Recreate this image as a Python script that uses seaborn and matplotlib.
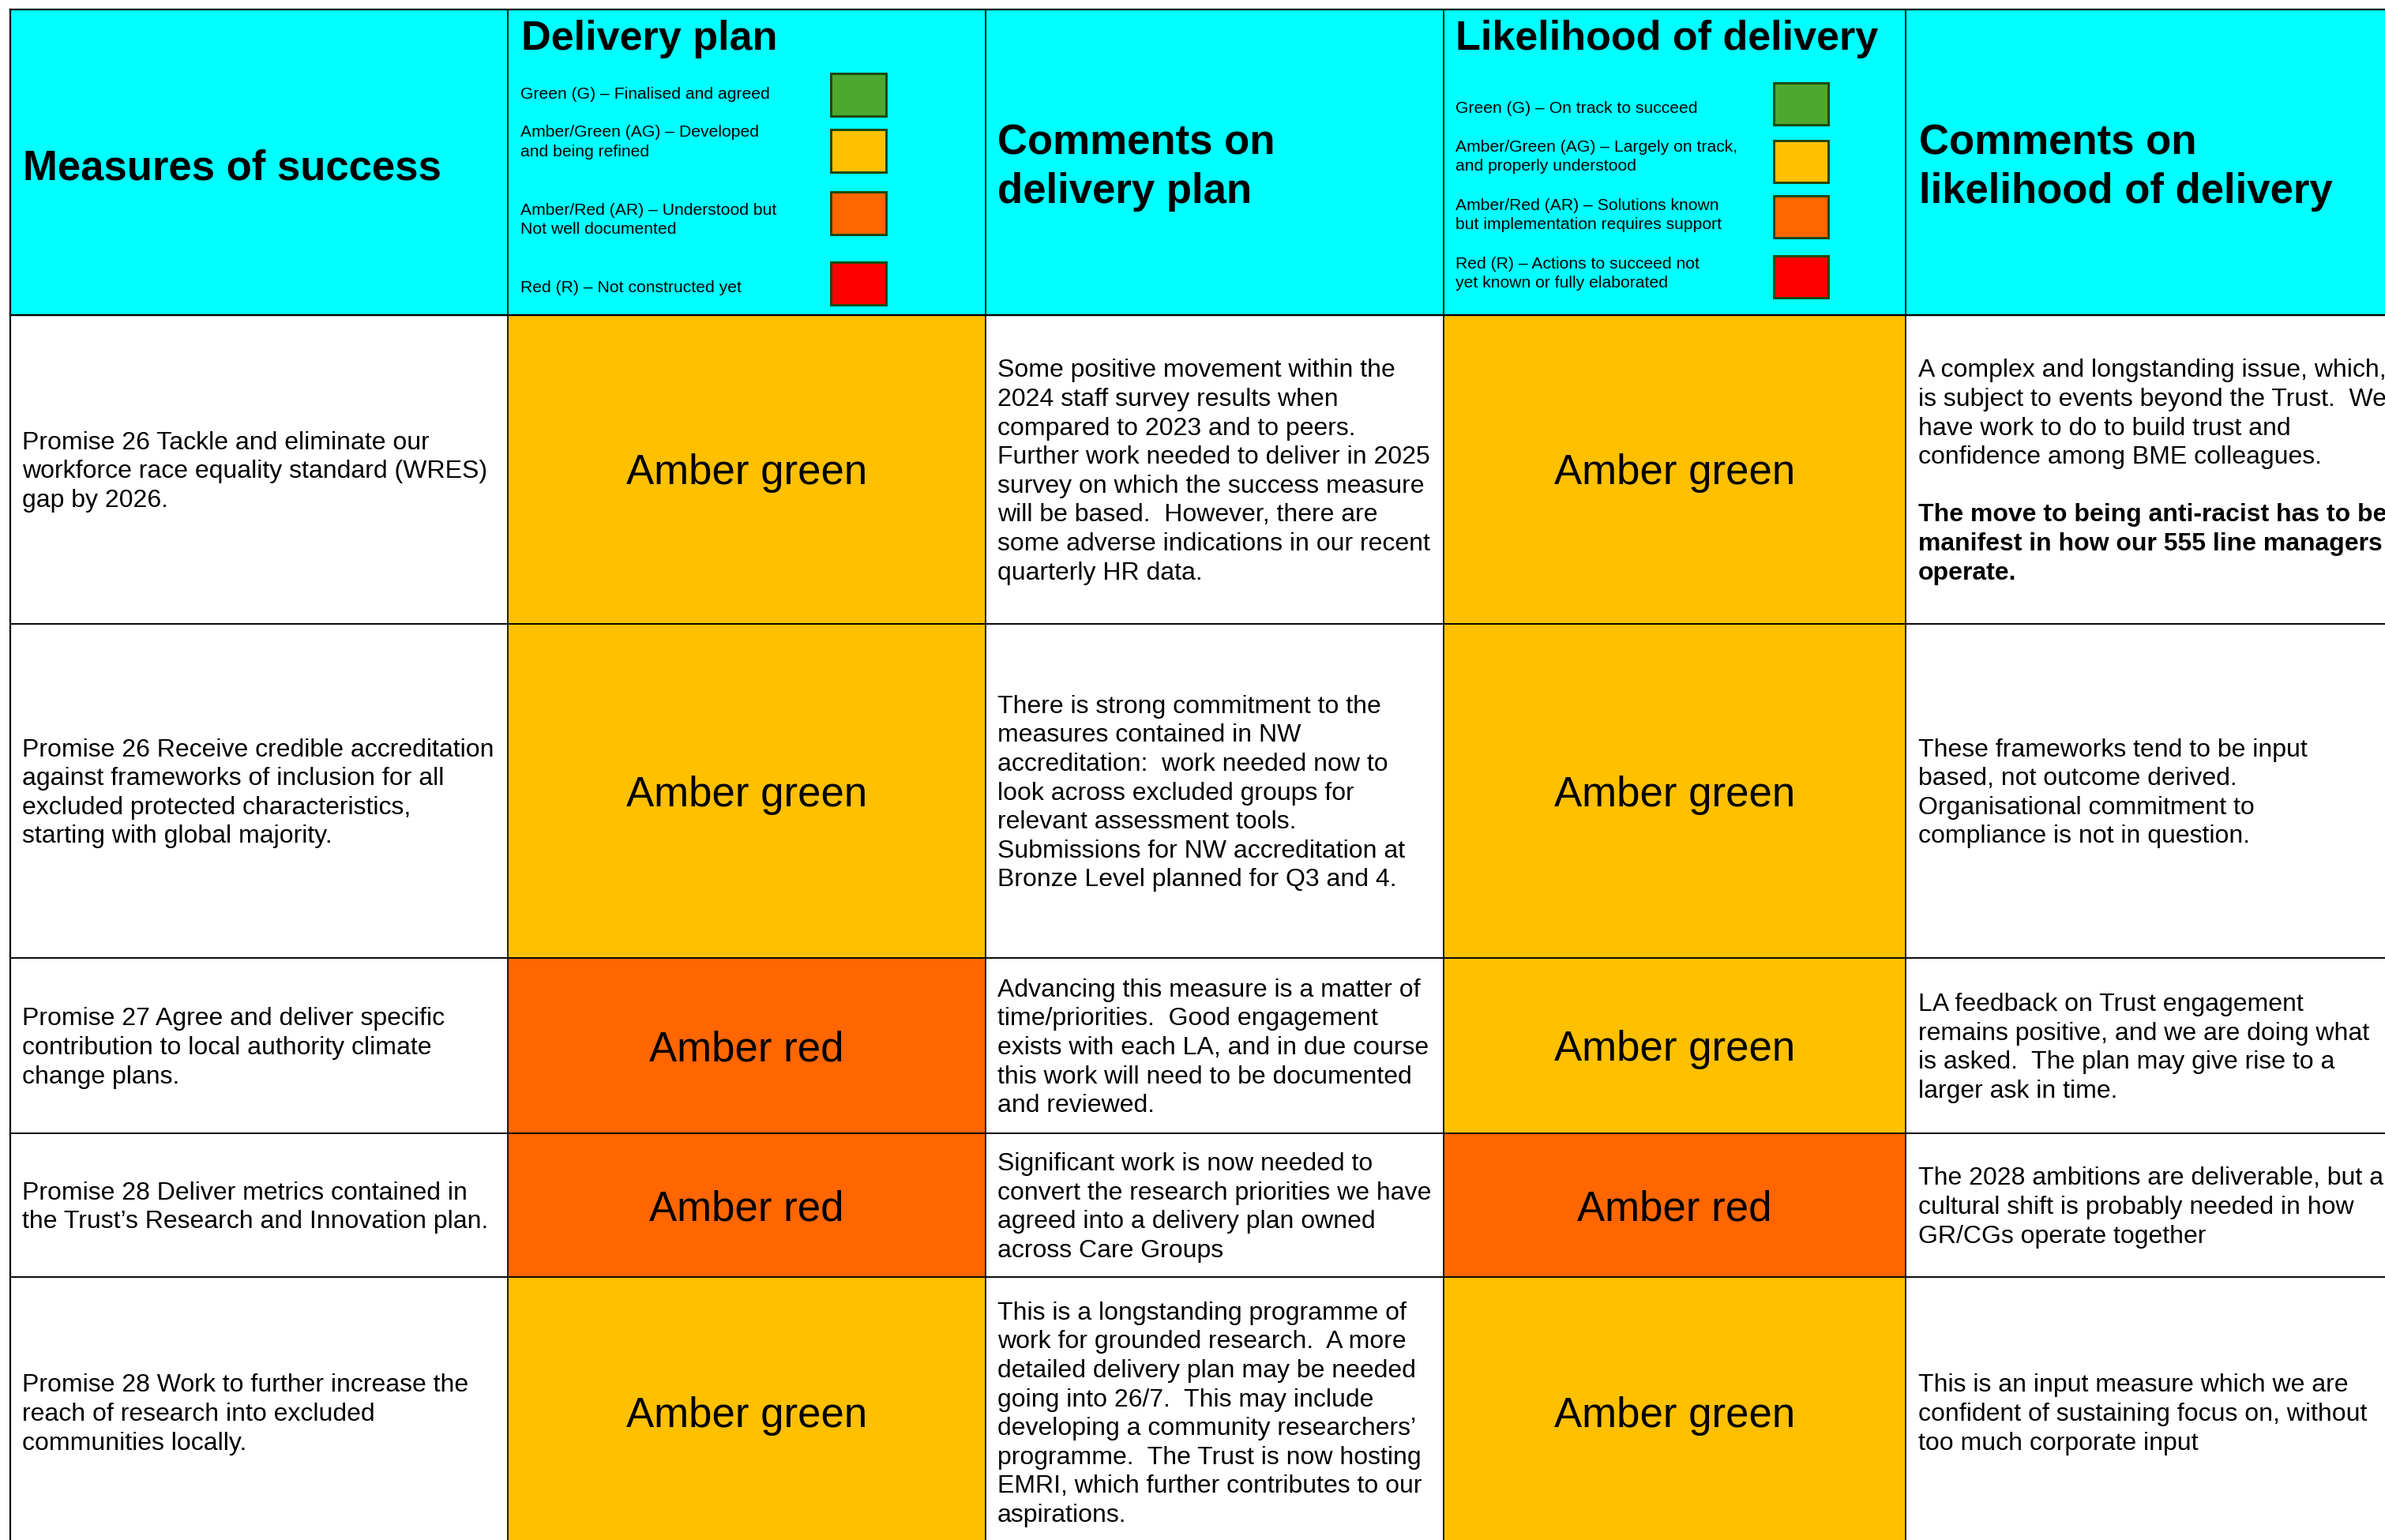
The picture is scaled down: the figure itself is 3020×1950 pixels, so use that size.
import matplotlib
matplotlib.use("Agg")
import numpy as np
import matplotlib.pyplot as plt
import seaborn as sns
from matplotlib.colors import ListedColormap
from matplotlib.patches import Rectangle

plt.rcParams["font.family"] = ["Liberation Sans", "DejaVu Sans"]

# ---------- table content ----------
headers = ["Measures of success", "Delivery plan", "Comments on\ndelivery plan",
           "Likelihood of delivery", "Comments on\nlikelihood of delivery"]

measures = [
    "Promise 26 Tackle and eliminate our\nworkforce race equality standard (WRES)\ngap by 2026.",
    "Promise 26 Receive credible accreditation\nagainst frameworks of inclusion for all\nexcluded protected characteristics,\nstarting with global majority.",
    "Promise 27 Agree and deliver specific\ncontribution to local authority climate\nchange plans.",
    "Promise 28 Deliver metrics contained in\nthe Trust\u2019s Research and Innovation plan.",
    "Promise 28 Work to further increase the\nreach of research into excluded\ncommunities locally.",
]

delivery_status = ["AG", "AG", "AR", "AR", "AG"]
likelihood_status = ["AG", "AG", "AG", "AR", "AG"]

delivery_comments = [
    "Some positive movement within the\n2024 staff survey results when\ncompared to 2023 and to peers.\n"
    "Further work needed to deliver in 2025\nsurvey on which the success measure\n"
    "will be based.  However, there are\nsome adverse indications in our recent\nquarterly HR data.",
    "There is strong commitment to the\nmeasures contained in NW\naccreditation:  work needed now to\n"
    "look across excluded groups for\nrelevant assessment tools.\nSubmissions for NW accreditation at\n"
    "Bronze Level planned for Q3 and 4.",
    "Advancing this measure is a matter of\ntime/priorities.  Good engagement\n"
    "exists with each LA, and in due course\nthis work will need to be documented\nand reviewed.",
    "Significant work is now needed to\nconvert the research priorities we have\n"
    "agreed into a delivery plan owned\nacross Care Groups",
    "This is a longstanding programme of\nwork for grounded research.  A more\n"
    "detailed delivery plan may be needed\ngoing into 26/7.  This may include\n"
    "developing a community researchers\u2019\nprogramme.  The Trust is now hosting\n"
    "EMRI, which further contributes to our\naspirations.",
]

likelihood_comments = [
    "A complex and longstanding issue, which,\nis subject to events beyond the Trust.  We\n"
    "have work to do to build trust and\nconfidence among BME colleagues.",
    "These frameworks tend to be input\nbased, not outcome derived.\n"
    "Organisational commitment to\ncompliance is not in question.",
    "LA feedback on Trust engagement\nremains positive, and we are doing what\n"
    "is asked.  The plan may give rise to a\nlarger ask in time.",
    "The 2028 ambitions are deliverable, but a\ncultural shift is probably needed in how\n"
    "GR/CGs operate together",
    "This is an input measure which we are\nconfident of sustaining focus on, without\n"
    "too much corporate input",
]
likelihood_emphasis = [
    "The move to being anti-racist has to be\nmanifest in how our 555 line managers\noperate.",
    None, None, None, None,
]

rag_labels = {"G": "Green", "AG": "Amber green", "AR": "Amber red", "R": "Red"}
rag_order = ["G", "AG", "AR", "R"]

delivery_key = [
    "Green (G) \u2013 Finalised and agreed",
    "Amber/Green (AG) \u2013 Developed\nand being refined",
    "Amber/Red (AR) \u2013 Understood but\nNot well documented",
    "Red (R) \u2013 Not constructed yet",
]
likelihood_key = [
    "Green (G) \u2013 On track to succeed",
    "Amber/Green (AG) \u2013 Largely on track,\nand properly understood",
    "Amber/Red (AR) \u2013 Solutions known\nbut implementation requires support",
    "Red (R) \u2013 Actions to succeed not\nyet known or fully elaborated",
]

fill_names = ["blank", "header", "G", "AG", "AR", "R"]
fill_colors = ["#FFFFFF", "#00FFFF", "#4EA72E", "#FFC000", "#FF6600", "#FF0000"]

# ---------- layout (pixels) ----------
W, H = 3020, 1950
col_edges = [13, 643, 1248, 1828, 2413, 3020]
row_edges = [12, 399, 790, 1213, 1435, 1617, 1959]
LS = 36.6          # body line spacing
BODY = 23
px2pt = 0.72

# colour code grid: header row + body rows
codes = [[1] * 5]
for d, l in zip(delivery_status, likelihood_status):
    codes.append([0, fill_names.index(d), 0, fill_names.index(l), 0])
codes = np.array(codes)

cmap = ListedColormap(fill_colors)
fig = plt.figure(figsize=(W / 100, H / 100), dpi=100)

for i in range(len(row_edges) - 1):
    y0, y1 = row_edges[i], min(row_edges[i + 1], H)
    for j in range(len(col_edges) - 1):
        x0, x1 = col_edges[j], col_edges[j + 1]
        cax = fig.add_axes([x0 / W, 1 - y1 / H, (x1 - x0) / W, (y1 - y0) / H])
        sns.heatmap(codes[i:i + 1, j:j + 1], cmap=cmap, vmin=-0.5, vmax=len(fill_colors) - 0.5,
                    cbar=False, xticklabels=False, yticklabels=False, ax=cax)
        cax.set_xlabel("")
        cax.set_ylabel("")

# overlay in pixel coordinates for text and rules
ax = fig.add_axes([0, 0, 1, 1])
ax.set_xlim(0, W)
ax.set_ylim(H, 0)
ax.axis("off")
ax.patch.set_alpha(0)

# grid lines
ax.plot([col_edges[0], W], [row_edges[0]] * 2, color="black", lw=2.2 * px2pt)
for k, y in enumerate(row_edges[1:-1]):
    ax.plot([col_edges[0], W], [y, y], color="black", lw=(2.4 if k == 0 else 1.9) * px2pt)
for k, x in enumerate(col_edges[:-1]):
    ax.plot([x, x], [row_edges[0], H], color="black", lw=(2.2 if k == 0 else 1.7) * px2pt)

# headers
ax.text(29, 227, headers[0], fontsize=38, fontweight="bold", va="baseline")
ax.text(660, 63, headers[1], fontsize=37.5, fontweight="bold", va="baseline")
ax.text(1843, 63, headers[3], fontsize=37.5, fontweight="bold", va="baseline")
for x, hdr in [(1263, headers[2]), (2430, headers[4])]:
    for k, line in enumerate(hdr.split("\n")):
        ax.text(x, 195 + 62 * k, line, fontsize=38, fontweight="bold", va="baseline")

# legends in header
def draw_key(entries, x_text, baselines, x_box, box_tops, box_w, box_h):
    for entry, b, top, code in zip(entries, baselines, box_tops, rag_order):
        for k, line in enumerate(entry.split("\n")):
            ax.text(x_text, b + 24.5 * k, line, fontsize=15.2, va="baseline")
        ax.add_patch(Rectangle((x_box, top), box_w, box_h,
                               facecolor=fill_colors[fill_names.index(code)],
                               edgecolor="#1d4a12", lw=3.0 * px2pt))

draw_key(delivery_key, 659, [125, 173, 272, 370], 1052, [93, 164, 243, 332], 70, 54)
draw_key(likelihood_key, 1843, [143, 192, 266, 340], 2246, [105, 178, 248, 324], 69, 53)

# body
def draw_block(x, center, lines, weights):
    n = len(lines)
    first = center - (n - 1) * LS / 2 + 11
    for k, (line, w) in enumerate(zip(lines, weights)):
        if line:
            ax.text(x, first + k * LS, line, fontsize=BODY, fontweight=w, va="baseline")

for r in range(len(measures)):
    center = (row_edges[r + 1] + row_edges[r + 2]) / 2
    m_lines = measures[r].split("\n")
    draw_block(28, center, m_lines, ["normal"] * len(m_lines))

    d_lines = delivery_comments[r].split("\n")
    draw_block(1263, center, d_lines, ["normal"] * len(d_lines))

    l_lines = likelihood_comments[r].split("\n")
    l_weights = ["normal"] * len(l_lines)
    if likelihood_emphasis[r]:
        extra = likelihood_emphasis[r].split("\n")
        l_lines = l_lines + [""] + extra
        l_weights = l_weights + ["normal"] + ["bold"] * len(extra)
    draw_block(2429, center, l_lines, l_weights)

    for status, (xa, xb) in [(delivery_status[r], col_edges[1:3]), (likelihood_status[r], col_edges[3:5])]:
        ax.text((xa + xb) / 2, center + 19, rag_labels[status], fontsize=38,
                ha="center", va="baseline")

fig.savefig("out.png", dpi=100)
